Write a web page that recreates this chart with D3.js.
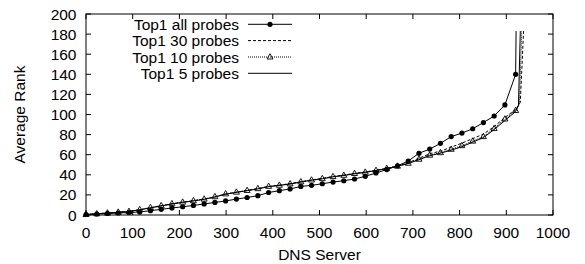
<!DOCTYPE html>
<html>
<head>
    <meta charset="utf-8">
    <title>Average Rank per DNS Server</title>
    <script type="text/javascript" src="https://d3js.org/d3.v7.min.js"></script>
    <style>
        body { margin: 0; background: white; }
        .canvas {
            font: 15.5px "Liberation Sans", Arial, sans-serif;
            background-color: white;
            width: 585px;
            height: 264px;
        }
    </style>
</head>
<body>
    <svg class="canvas"></svg>
    <script type="text/javascript">
        // x positions of the plotted points (every 23rd server)
        var servers = [0, 23, 46, 69, 92, 115, 138, 161, 184, 207, 230, 253, 276, 299, 322, 345, 368, 391, 414, 437,
                       460, 483, 506, 529, 552, 575, 598, 621, 644, 667, 690, 713, 736, 759, 782, 805, 828, 851, 874, 897, 920]

        var allProbes = [0.5, 1, 1.5, 2, 2.5, 3, 4.3, 5.6, 7, 8.2, 9.5, 11, 12.5, 14, 15.8, 17.4, 19.2, 22.4, 24.2, 25.9,
                         28.4, 29.5, 31.1, 32.8, 34.1, 35.8, 38.5, 41.8, 45.2, 48.9, 53.7, 61.4, 65.6, 71.3, 78, 81.5, 85.8, 92, 98.5, 109.5, 140]
        var probes30 = [0.5, 1.2, 2, 2.9, 3.7, 5.2, 7.2, 9.2, 11.1, 12.7, 14.3, 15.9, 18, 20.8, 22.6, 24.4, 26.3, 28.4, 29.7, 31.2,
                        33.1, 34.9, 36.4, 38.3, 39.7, 41.4, 42.8, 44.6, 46.5, 48.8, 51.9, 56.5, 61, 63.5, 67.5, 71.5, 76, 80.5, 88, 97, 105]
        var probes10 = [0.5, 1.2, 2, 2.8, 3.6, 5.3, 7.4, 9.3, 11.2, 12.8, 14.2, 15.8, 18.2, 21, 22.7, 24.4, 26.2, 28.5, 29.6, 31,
                        33, 34.8, 36.2, 38.2, 39.5, 41.3, 42.6, 44.4, 46.3, 48.6, 51.5, 55.5, 59.5, 62, 65.4, 69, 73.5, 78, 86, 95.5, 104]
        var probes5 = [0.5, 1.1, 1.9, 2.7, 3.5, 5.1, 7.1, 9, 11, 12.6, 14, 15.6, 17.9, 20.7, 22.5, 24.2, 26, 28.2, 29.4, 30.8,
                       32.8, 34.6, 36, 38, 39.3, 41, 42.4, 44.2, 46.1, 48.4, 51.2, 55, 59, 61.5, 64.5, 68, 72.5, 77, 85, 94, 103]

        // end of each curve after the last point: [server, rank]
        var tailAll = [[921, 183]]
        var tail30 = [[930, 112], [937, 183]]
        var tail10 = [[928, 110], [933, 183]]
        var tail5 = [[926, 109], [930, 183]]

        var xTicks = d3.range(0, 1001, 100)
        var yTicks = d3.range(0, 201, 20)

        var plotL = 86, plotR = 553, plotT = 14, plotB = 215

        var x = d3.scaleLinear().domain([0, 1000]).range([plotL, plotR])
        var y = d3.scaleLinear().domain([0, 200]).range([plotB, plotT])

        var svg = d3.select('.canvas')

        var series = [
            { name: 'Top1 all probes', values: allProbes, tail: tailAll, dash: null, marker: 'dot' },
            { name: 'Top1 30 probes', values: probes30, tail: tail30, dash: '3,2', marker: null },
            { name: 'Top1 10 probes', values: probes10, tail: tail10, dash: '1,1', marker: 'tri' },
            { name: 'Top1 5 probes', values: probes5, tail: tail5, dash: null, marker: null }
        ]

        var line = d3.line().x(d => x(d[0])).y(d => y(d[1]))

        function triangle(cx, cy) {
            return 'M' + cx + ',' + (cy - 3.3) + 'L' + (cx + 3) + ',' + (cy + 2) + 'L' + (cx - 3) + ',' + (cy + 2) + 'Z'
        }

        series.forEach(s => {
            var pts = servers.map((sv, i) => [sv, s.values[i]]).concat(s.tail)
            svg.append('path')
                .attr('d', line(pts))
                .attr('fill', 'none')
                .attr('stroke', 'black')
                .attr('stroke-width', 1)
                .attr('stroke-dasharray', s.dash)

            if (s.marker === 'dot') {
                svg.selectAll('.dot')
                    .data(servers)
                    .enter()
                    .append('circle')
                    .attr('cx', (d) => x(d))
                    .attr('cy', (d, i) => y(s.values[i]))
                    .attr('r', 2.6)
                    .attr('fill', 'black')
            }
            if (s.marker === 'tri') {
                svg.selectAll('.tri')
                    .data(servers)
                    .enter()
                    .append('path')
                    .attr('d', (d, i) => triangle(x(d), y(s.values[i])))
                    .attr('fill', 'none')
                    .attr('stroke', 'black')
                    .attr('stroke-width', 0.9)
            }
        })

        // ticks pointing inward on all four sides
        var tl = 5
        xTicks.forEach(t => {
            svg.append('line').attr('x1', x(t)).attr('x2', x(t)).attr('y1', plotB).attr('y2', plotB - tl).attr('stroke', 'black')
            svg.append('line').attr('x1', x(t)).attr('x2', x(t)).attr('y1', plotT).attr('y2', plotT + tl).attr('stroke', 'black')
            svg.append('text').attr('x', x(t)).attr('y', 237.5).attr('text-anchor', 'middle').text(t)
        })
        yTicks.forEach(t => {
            svg.append('line').attr('x1', plotL).attr('x2', plotL + tl).attr('y1', y(t)).attr('y2', y(t)).attr('stroke', 'black')
            svg.append('line').attr('x1', plotR).attr('x2', plotR - tl).attr('y1', y(t)).attr('y2', y(t)).attr('stroke', 'black')
            svg.append('text').attr('x', 76.5).attr('y', y(t)).attr('dy', '0.36em').attr('text-anchor', 'end').text(t)
        })

        svg.append('rect')
            .attr('x', plotL).attr('y', plotT)
            .attr('width', plotR - plotL).attr('height', plotB - plotT)
            .attr('fill', 'none').attr('stroke', 'black').attr('stroke-width', 1)

        svg.append('text').attr('x', (plotL + plotR) / 2).attr('y', 260).attr('text-anchor', 'middle').text('DNS Server')
        svg.append('text')
            .attr('transform', 'translate(25,' + ((plotT + plotB) / 2) + ') rotate(-90)')
            .attr('text-anchor', 'middle')
            .text('Average Rank')

        // legend
        var legY = [24.3, 40.6, 57, 73.3]
        series.forEach((s, i) => {
            svg.append('text').attr('x', 239).attr('y', legY[i]).attr('dy', '0.36em').attr('text-anchor', 'end').text(s.name)
            svg.append('line').attr('x1', 248).attr('x2', 292).attr('y1', legY[i]).attr('y2', legY[i])
                .attr('stroke', 'black').attr('stroke-dasharray', s.dash)
            if (s.marker === 'dot') {
                svg.append('circle').attr('cx', 270).attr('cy', legY[i]).attr('r', 2.6).attr('fill', 'black')
            }
            if (s.marker === 'tri') {
                svg.append('path').attr('d', triangle(270, legY[i])).attr('fill', 'none').attr('stroke', 'black').attr('stroke-width', 0.9)
            }
        })
    </script>
</body>
</html>
